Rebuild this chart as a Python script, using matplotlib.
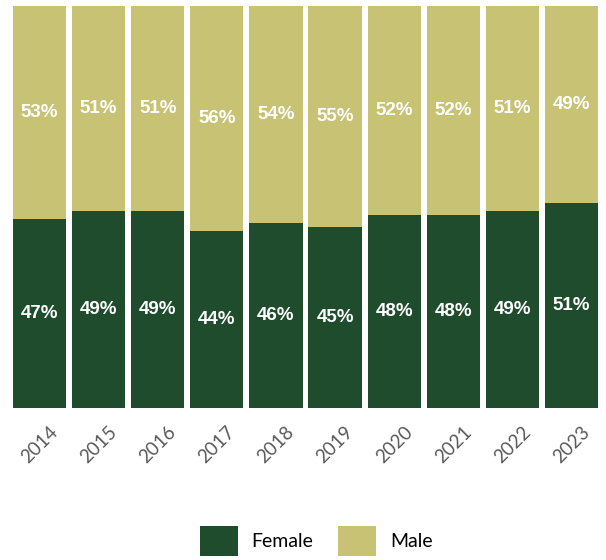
import matplotlib.pyplot as plt
from matplotlib.patches import Patch

# Share of students by gender, per year (percent)
years = ['2014', '2015', '2016', '2017', '2018', '2019', '2020', '2021', '2022', '2023']
female = [47, 49, 49, 44, 46, 45, 48, 48, 49, 51]
male = [53, 51, 51, 56, 54, 55, 52, 52, 51, 49]

female_color = '#1f4c2c'
male_color = '#c8c274'

fig = plt.figure(figsize=(6.06, 5.6), dpi=100)
ax = fig.add_axes([13 / 606, 1 - 408 / 560, 585 / 606, 402 / 560])

x = range(len(years))
b1 = ax.bar(x, female, width=0.9, color=female_color, label='Female')
b2 = ax.bar(x, male, width=0.9, bottom=female, color=male_color, label='Male')

lab_font = dict(color='white', fontweight='bold', fontsize=13.5, family='Liberation Sans')
ax.bar_label(b1, labels=[f'{v}%' for v in female], label_type='center', **lab_font)
ax.bar_label(b2, labels=[f'{v}%' for v in male], label_type='center', **lab_font)

ax.set_xlim(-0.45, len(years) - 0.55)
ax.set_ylim(0, 100)
ax.set_xticks(list(x))
ax.set_xticklabels(years, rotation=45, ha='center', va='top',
                   fontsize=13.5, color='#595959', family='Lato')
ax.tick_params(axis='x', length=0, pad=11)
ax.set_yticks([])
for s in ax.spines.values():
    s.set_visible(False)

handles = [Patch(facecolor=female_color), Patch(facecolor=male_color)]
fig.legend(handles, ['Female', 'Male'], loc='center', bbox_to_anchor=(316 / 606, 1 - 541 / 560),
           ncol=2, frameon=False, prop={'family': 'Lato', 'size': 14},
           handlelength=1.95, handleheight=1.95, handletextpad=0.7, columnspacing=1.3)

fig.savefig('out.png', dpi=100)
